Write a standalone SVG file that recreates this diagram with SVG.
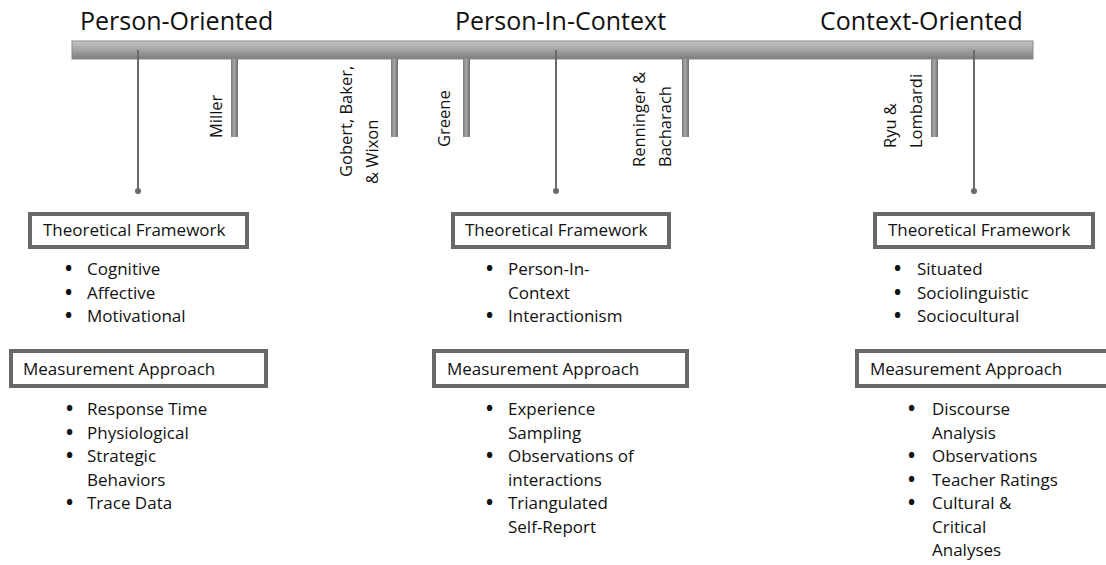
<svg xmlns="http://www.w3.org/2000/svg" width="1106" height="565" viewBox="0 0 1106 565">
<defs>
<linearGradient id="barG" x1="0" y1="0" x2="0" y2="1">
<stop offset="0" stop-color="#c4c4c4"/>
<stop offset="0.5" stop-color="#a3a3a3"/>
<stop offset="1" stop-color="#7c7c7c"/>
</linearGradient>
<linearGradient id="stubG" x1="0" y1="0" x2="1" y2="0">
<stop offset="0" stop-color="#7a7a7a"/>
<stop offset="0.45" stop-color="#a8a8a8"/>
<stop offset="1" stop-color="#6e6e6e"/>
</linearGradient>
</defs>
<style>
text{font-family:"Open Sans","Liberation Sans",sans-serif;fill:#111}
.title{font-size:25px}
.item{font-size:17px}
.bul{font-size:19px;font-weight:bold}
.hdr{font-size:17px}
.vlab{font-size:16.5px}
.box{fill:#fff;stroke:#696969;stroke-width:4}
.stub{fill:url(#stubG)}
.thin{stroke:#6a6a6a;stroke-width:2}
.dot{fill:#6a6a6a}
</style>
<rect width="1106" height="565" fill="#fff"/>

<g id="titles">
<text class="title" x="80" y="30">Person-Oriented</text>
<text class="title" x="455" y="30">Person-In-Context</text>
<text class="title" x="820" y="30">Context-Oriented</text>
</g>

<g id="timeline">
<rect x="72" y="41" width="961" height="18" fill="url(#barG)" stroke="#8a8a8a" stroke-width="1"/>
</g>

<g id="connectors">
<line class="thin" x1="138" y1="50" x2="138" y2="191"/>
<circle class="dot" cx="138" cy="191" r="3"/>
<line class="thin" x1="556" y1="50" x2="556" y2="191"/>
<circle class="dot" cx="556" cy="191" r="3"/>
<line class="thin" x1="974" y1="50" x2="974" y2="191"/>
<circle class="dot" cx="974" cy="191" r="3"/>
</g>

<g id="miller">
<rect class="stub" x="231" y="59" width="7" height="78"/>
<text class="vlab" transform="translate(222,138) rotate(-90)">Miller</text>
</g>
<g id="gobert">
<rect class="stub" x="391" y="59" width="7" height="78"/>
<text class="vlab" transform="translate(352,177) rotate(-90)">Gobert, Baker,</text>
<text class="vlab" transform="translate(378,184) rotate(-90)">&amp; Wixon</text>
</g>
<g id="greene">
<rect class="stub" x="463" y="59" width="7" height="78"/>
<text class="vlab" transform="translate(450,147) rotate(-90)">Greene</text>
</g>
<g id="renninger">
<rect class="stub" x="682" y="59" width="7" height="78"/>
<text class="vlab" transform="translate(645,167) rotate(-90)">Renninger &amp;</text>
<text class="vlab" transform="translate(671,167) rotate(-90)">Bacharach</text>
</g>
<g id="ryu">
<rect class="stub" x="931" y="59" width="7" height="78"/>
<text class="vlab" transform="translate(896,148) rotate(-90)">Ryu &amp;</text>
<text class="vlab" transform="translate(922,148) rotate(-90)">Lombardi</text>
</g>

<g id="left-tf">
<rect class="box" x="30" y="214" width="217" height="33"/>
<text class="hdr" x="43" y="236">Theoretical Framework</text>
<text class="bul" x="65" y="275">•</text><text class="item" x="87" y="275">Cognitive</text>
<text class="bul" x="65" y="298.5">•</text><text class="item" x="87" y="298.5">Affective</text>
<text class="bul" x="65" y="322">•</text><text class="item" x="87" y="322">Motivational</text>
</g>
<g id="left-ma">
<rect class="box" x="11" y="351" width="255" height="35"/>
<text class="hdr" x="23" y="375">Measurement Approach</text>
<text class="bul" x="66" y="415">•</text><text class="item" x="87" y="415">Response Time</text>
<text class="bul" x="66" y="438.5">•</text><text class="item" x="87" y="438.5">Physiological</text>
<text class="bul" x="66" y="462">•</text><text class="item" x="87" y="462">Strategic</text>
<text class="item" x="87" y="485.5">Behaviors</text>
<text class="bul" x="66" y="509">•</text><text class="item" x="87" y="509">Trace Data</text>
</g>

<g id="mid-tf">
<rect class="box" x="453" y="214" width="216" height="33"/>
<text class="hdr" x="465" y="236">Theoretical Framework</text>
<text class="bul" x="486" y="275">•</text><text class="item" x="508" y="275">Person-In-</text>
<text class="item" x="508" y="298.5">Context</text>
<text class="bul" x="486" y="322">•</text><text class="item" x="508" y="322">Interactionism</text>
</g>
<g id="mid-ma">
<rect class="box" x="434" y="351" width="253" height="35"/>
<text class="hdr" x="447" y="375">Measurement Approach</text>
<text class="bul" x="486" y="415">•</text><text class="item" x="508" y="415">Experience</text>
<text class="item" x="508" y="438.5">Sampling</text>
<text class="bul" x="486" y="462">•</text><text class="item" x="508" y="462">Observations of</text>
<text class="item" x="508" y="485.5">interactions</text>
<text class="bul" x="486" y="509">•</text><text class="item" x="508" y="509">Triangulated</text>
<text class="item" x="508" y="532.5">Self-Report</text>
</g>

<g id="right-tf">
<rect class="box" x="875" y="214" width="218" height="33"/>
<text class="hdr" x="888" y="236">Theoretical Framework</text>
<text class="bul" x="894" y="275">•</text><text class="item" x="917" y="275">Situated</text>
<text class="bul" x="894" y="298.5">•</text><text class="item" x="917" y="298.5">Sociolinguistic</text>
<text class="bul" x="894" y="322">•</text><text class="item" x="917" y="322">Sociocultural</text>
</g>
<g id="right-ma">
<rect class="box" x="857" y="351" width="262" height="35"/>
<text class="hdr" x="870" y="375">Measurement Approach</text>
<text class="bul" x="908" y="415">•</text><text class="item" x="932" y="415">Discourse</text>
<text class="item" x="932" y="438.5">Analysis</text>
<text class="bul" x="908" y="462">•</text><text class="item" x="932" y="462">Observations</text>
<text class="bul" x="908" y="485.5">•</text><text class="item" x="932" y="485.5">Teacher Ratings</text>
<text class="bul" x="908" y="509">•</text><text class="item" x="932" y="509">Cultural &amp;</text>
<text class="item" x="932" y="532.5">Critical</text>
<text class="item" x="932" y="556">Analyses</text>
</g>
</svg>
